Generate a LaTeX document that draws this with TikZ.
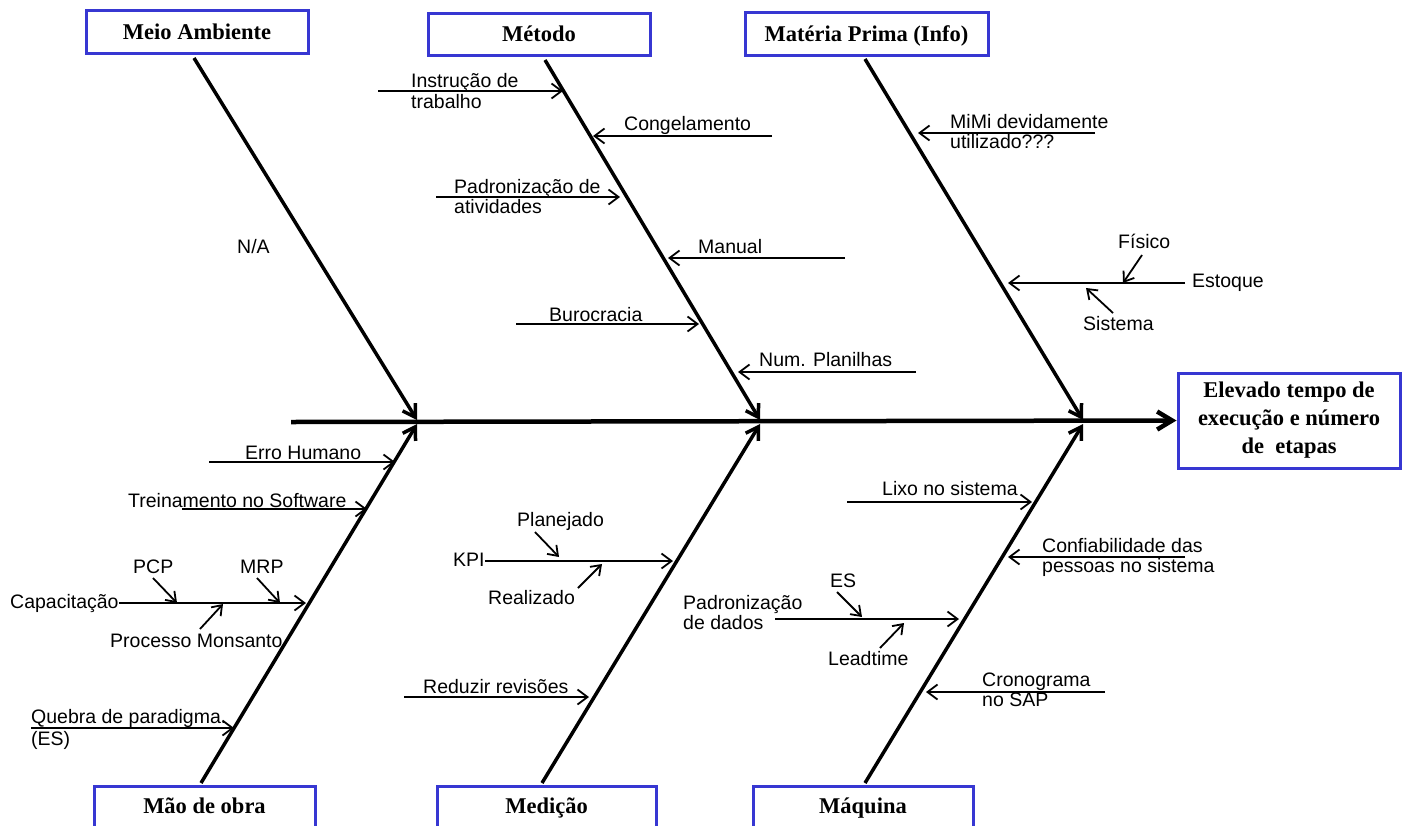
\documentclass[tikz,border=0pt]{standalone}
\usepackage{fontspec}
\setmainfont{Liberation Serif}
\setsansfont{Liberation Sans}
\usetikzlibrary{arrows.meta}
\definecolor{boxblue}{RGB}{55,55,210}
\begin{document}
\begin{tikzpicture}[x=1pt,y=-1pt,
  titlebox/.style={draw=boxblue, line width=3pt, fill=white, inner sep=0pt,
    text height=15pt, text depth=0pt,
    font=\rmfamily\bfseries\fontsize{22.5}{28}\selectfont},
  footbox/.style={titlebox, text depth=10pt, minimum height=50pt},
  txt/.style={inner sep=0pt, anchor=base west, font=\sffamily\fontsize{19.5}{22}\selectfont},
  spinearrow/.style={line width=4.5pt, -{Straight Barb[length=15pt,width=18pt]}},
  bonearrow/.style={line width=3.5pt, -{Straight Barb[length=12pt,width=15pt]}},
  causearrow/.style={line width=1.8pt, -{Straight Barb[length=10pt,width=15pt]}},
  subarrow/.style={line width=1.8pt, -{Straight Barb[length=9pt,width=13pt]}}]

\fill[white] (0,0) rectangle (1407,825);
\clip (0,0) rectangle (1407,825);

% category boxes (the lower ones run past the bottom edge)
\node[titlebox, minimum width=222pt, minimum height=43pt] (meio) at (197,31.5) {Meio Ambiente};
\node[titlebox, minimum width=222pt, minimum height=42pt] (metodo) at (539,34) {Método};
\node[titlebox, minimum width=243pt, minimum height=43pt] (materia) at (866.5,33.5) {Matéria Prima (Info)};
\node[footbox, minimum width=221pt] (mao) at (204.5,811) {Mão de obra};
\node[footbox, minimum width=219pt] (medicao) at (546.5,811) {Medição};
\node[footbox, minimum width=220pt] (maquina) at (863,811) {Máquina};

% effect box
\node[draw=boxblue, line width=3pt, fill=white, inner sep=0pt, align=center,
  minimum width=222pt, minimum height=95pt,
  font=\rmfamily\bfseries\fontsize{22.5}{28}\selectfont] (effect) at (1289,420.5)
  {Elevado tempo de\\execução e número\\de~~etapas};

% spine
\coordinate (spineStart) at (291,422);
\draw[spinearrow] (spineStart) -- (effect.west);

% main bones
\coordinate (meioTop) at (194,58);    \coordinate (meioEnd) at (417,420);
\coordinate (metTop) at (545,60);     \coordinate (metEnd) at (760,420);
\coordinate (matTop) at (865,59);     \coordinate (matEnd) at (1083,420);
\coordinate (maoBot) at (201,783);    \coordinate (maoEnd) at (417,424);
\coordinate (medBot) at (542,783);    \coordinate (medEnd) at (760,424);
\coordinate (maqBot) at (865,783);    \coordinate (maqEnd) at (1083,424);
\draw[bonearrow] (meioTop) -- (meioEnd);
\draw[bonearrow] (metTop) -- (metEnd);
\draw[bonearrow] (matTop) -- (matEnd);
\draw[bonearrow] (maoBot) -- (maoEnd);
\draw[bonearrow] (medBot) -- (medEnd);
\draw[bonearrow] (maqBot) -- (maqEnd);

% Meio Ambiente
\node[txt] (na) at (237,253) {N/A};

% Método causes
\coordinate (instrTail) at (378,91);  \coordinate (instrTip) at (563,91);
\draw[causearrow] (instrTail) -- (instrTip);
\node[txt] (instr1) at (411,87) {Instrução de};
\node[txt] (instr2) at (411,108) {trabalho};

\coordinate (congTail) at (772,136);  \coordinate (congTip) at (593,136);
\draw[causearrow] (congTail) -- (congTip);
\node[txt] (cong) at (624,130) {Congelamento};

\coordinate (padTail) at (436,197);   \coordinate (padTip) at (620,197);
\draw[causearrow] (padTail) -- (padTip);
\node[txt] (pad1) at (454,193) {Padronização de};
\node[txt] (pad2) at (454,213) {atividades};

\coordinate (manTail) at (845,258);   \coordinate (manTip) at (668,258);
\draw[causearrow] (manTail) -- (manTip);
\node[txt] (manual) at (698,253) {Manual};

\coordinate (buroTail) at (516,324);  \coordinate (buroTip) at (699,324);
\draw[causearrow] (buroTail) -- (buroTip);
\node[txt] (buro) at (549,321) {Burocracia};

\coordinate (numTail) at (916,372);   \coordinate (numTip) at (738,372);
\draw[causearrow] (numTail) -- (numTip);
\node[txt] (num) at (759,366) {Num. Planilhas};

% Matéria Prima causes
\coordinate (mimiTail) at (1095,133); \coordinate (mimiTip) at (918,133);
\draw[causearrow] (mimiTail) -- (mimiTip);
\node[txt] (mimi1) at (950,128) {MiMi devidamente};
\node[txt] (mimi2) at (950,148) {utilizado???};

\node[txt] (estoque) at (1192,287) {Estoque};
\coordinate (estTail) at (1185,283);  \coordinate (estTip) at (1008,283);
\draw[causearrow] (estTail) -- (estTip);
\node[txt] (fisico) at (1118,248) {Físico};
\coordinate (fisFrom) at (1142,255);  \coordinate (fisTo) at (1123,283);
\draw[subarrow] (fisFrom) -- (fisTo);
\node[txt] (sistema) at (1083,330) {Sistema};
\coordinate (sisFrom) at (1113,313);  \coordinate (sisTo) at (1086,288);
\draw[subarrow] (sisFrom) -- (sisTo);

% Mão de obra causes
\coordinate (erroTail) at (209,462);  \coordinate (erroTip) at (395,462);
\draw[causearrow] (erroTail) -- (erroTip);
\node[txt] (erro) at (245,459) {Erro Humano};

\coordinate (treiTail) at (182,509);  \coordinate (treiTip) at (367,509);
\draw[causearrow] (treiTail) -- (treiTip);
\node[txt] (trei) at (128,507) {Treinamento no Software};

\node[txt] (capac) at (10,608) {Capacitação};
\coordinate (capTip) at (306,603);
\draw[causearrow] (capac.east |- capTip) -- (capTip);
\node[txt] (pcp) at (133,573) {PCP};
\coordinate (pcpFrom) at (153,578);   \coordinate (pcpTo) at (177,603);
\draw[subarrow] (pcpFrom) -- (pcpTo);
\node[txt] (mrp) at (240,573) {MRP};
\coordinate (mrpFrom) at (257,578);   \coordinate (mrpTo) at (280,603);
\draw[subarrow] (mrpFrom) -- (mrpTo);
\node[txt] (proc) at (110,647) {Processo Monsanto};
\coordinate (procFrom) at (200,629);  \coordinate (procTo) at (223,604);
\draw[subarrow] (procFrom) -- (procTo);

\coordinate (queTail) at (31,728);    \coordinate (queTip) at (234,728);
\draw[causearrow] (queTail) -- (queTip);
\node[txt] (que1) at (31,723) {Quebra de paradigma.};
\node[txt] (que2) at (31,745) {(ES)};

% Medição causes
\node[txt] (kpi) at (453,566) {KPI};
\coordinate (kpiTip) at (673,561);
\draw[causearrow] (kpi.east |- kpiTip) -- (kpiTip);
\node[txt] (plan) at (517,526) {Planejado};
\coordinate (planFrom) at (535,532);  \coordinate (planTo) at (559,557);
\draw[subarrow] (planFrom) -- (planTo);
\node[txt] (real) at (488,604) {Realizado};
\coordinate (realFrom) at (578,588);  \coordinate (realTo) at (602,564);
\draw[subarrow] (realFrom) -- (realTo);

\coordinate (redTail) at (404,697);   \coordinate (redTip) at (589,697);
\draw[causearrow] (redTail) -- (redTip);
\node[txt] (red) at (423,693) {Reduzir revisões};

% Máquina causes
\coordinate (lixoTail) at (847,502);  \coordinate (lixoTip) at (1032,502);
\draw[causearrow] (lixoTail) -- (lixoTip);
\node[txt] (lixo) at (882,495) {Lixo no sistema};

\coordinate (confTail) at (1185,557); \coordinate (confTip) at (1008,557);
\draw[causearrow] (confTail) -- (confTip);
\node[txt] (conf1) at (1042,552) {Confiabilidade das};
\node[txt] (conf2) at (1042,572) {pessoas no sistema};

\coordinate (pddTail) at (775,619);   \coordinate (pddTip) at (959,619);
\draw[causearrow] (pddTail) -- (pddTip);
\node[txt] (pdd1) at (683,609) {Padronização};
\node[txt] (pdd2) at (683,629) {de dados};
\node[txt] (es) at (830,587) {ES};
\coordinate (esFrom) at (837,592);    \coordinate (esTo) at (862,617);
\draw[subarrow] (esFrom) -- (esTo);
\node[txt] (lead) at (828,665) {Leadtime};
\coordinate (leadFrom) at (880,648);  \coordinate (leadTo) at (904,623);
\draw[subarrow] (leadFrom) -- (leadTo);

\coordinate (cronTail) at (1105,692); \coordinate (cronTip) at (926,692);
\draw[causearrow] (cronTail) -- (cronTip);
\node[txt] (cron1) at (982,686) {Cronograma};
\node[txt] (cron2) at (982,706) {no SAP};

\end{tikzpicture}
\end{document}
